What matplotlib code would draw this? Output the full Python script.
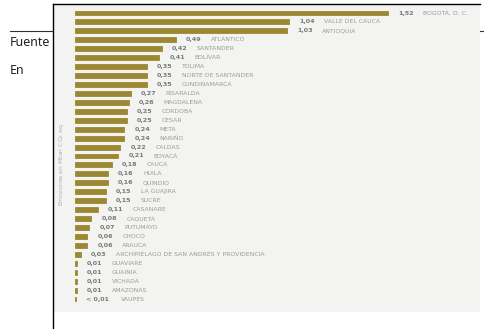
import matplotlib
matplotlib.use("Agg")
import matplotlib.pyplot as plt
from matplotlib.lines import Line2D

# Emissions per department (Mton CO2 eq)
departments = [
    "BOGOTÁ, D. C.", "VALLE DEL CAUCA", "ANTIOQUIA", "ATLÁNTICO", "SANTANDER",
    "BOLÍVAR", "TOLIMA", "NORTE DE SANTANDER", "CUNDINAMARCA", "RISARALDA",
    "MAGDALENA", "CÓRDOBA", "CESAR", "META", "NARIÑO", "CALDAS", "BOYACÁ",
    "CAUCA", "HUILA", "QUINDÍO", "LA GUAJIRA", "SUCRE", "CASANARE", "CAQUETÁ",
    "PUTUMAYO", "CHOCÓ", "ARAUCA", "ARCHIPIÉLAGO DE SAN ANDRÉS Y PROVIDENCIA",
    "GUAVIARE", "GUAINÍA", "VICHADA", "AMAZONAS", "VAUPÉS",
]
emissions = [
    1.52, 1.04, 1.03, 0.49, 0.42, 0.41, 0.35, 0.35, 0.35, 0.27, 0.26, 0.25,
    0.25, 0.24, 0.24, 0.22, 0.21, 0.18, 0.16, 0.16, 0.15, 0.15, 0.11, 0.08,
    0.07, 0.06, 0.06, 0.03, 0.01, 0.01, 0.01, 0.01, 0.005,
]
value_labels = [f"{v:.2f}".replace(".", ",") for v in emissions[:-1]] + ["< 0,01"]

W, H = 484, 329
bar_color = "#9c8832"
panel_bg = "#f3f3f2"

fig = plt.figure(figsize=(W / 100, H / 100), dpi=100)
fig.patch.set_facecolor("white")

def fx(px):
    return px / W

def fy(py):
    return 1 - py / H

# page behind the chart image
fig.add_artist(Line2D([fx(10), fx(53)], [fy(31), fy(31)], color="#333333", lw=0.8, zorder=-2))
fig.add_artist(Line2D([fx(480), fx(484)], [fy(31), fy(31)], color="#333333", lw=0.8, zorder=-2))
fig.text(fx(10), fy(42), "Fuente", fontsize=9, family="Noto Sans", color="#222222",
         va="center", ha="left", zorder=-1)
fig.text(fx(10), fy(71), "En", fontsize=9, family="Noto Sans", color="#222222",
         va="center", ha="left", zorder=-1)

# chart panel
left, top, right, bottom = 53, 4, 480, 312
ax = fig.add_axes([fx(left), fy(bottom), (right - left) / W, (bottom - top) / H])
ax.set_facecolor(panel_bg)
for s in ax.spines.values():
    s.set_visible(False)
ax.set_xticks([])
ax.set_yticks([])

px_per_unit = 206.0
panel_w = right - left
x0 = 22  # px from panel left to bar origin
ax.set_xlim(-x0 / px_per_unit, (panel_w - x0) / px_per_unit)

row_px = (299 - 13) / (len(departments) - 1)
ax.set_ylim(len(departments) - 1 + (bottom - 299) / row_px, -(13 - top) / row_px)

ypos = list(range(len(departments)))
# thin edge gives the tiny bars the visible minimum width seen in the original
ax.barh(ypos, emissions, height=0.55, color=bar_color, edgecolor=bar_color, linewidth=0.6)

for y, v, lab, name in zip(ypos, emissions, value_labels, departments):
    vx = v + 10 / px_per_unit
    ax.text(vx, y, lab, fontsize=4.6, fontweight="bold", color="#7a7a7a",
            va="center", ha="left", family="DejaVu Sans")
    extra = 10 if lab.startswith("<") else 0
    ax.text(v + (35 + extra) / px_per_unit, y, name, fontsize=4.4, color="#9a9a9a",
            va="center", ha="left", family="DejaVu Sans")

ax.text(-13 / px_per_unit, 17, "Emisiones en Mton CO$_2$ eq", rotation=90,
        fontsize=4.4, color="#b0b0b0", va="center", ha="center")

# border of the image container
fig.add_artist(Line2D([fx(left), fx(right)], [fy(top), fy(top)], color="black", lw=1.0))
fig.add_artist(Line2D([fx(left), fx(left)], [fy(top), 0], color="black", lw=1.0))

fig.savefig("out.png", dpi=100, facecolor="white")
